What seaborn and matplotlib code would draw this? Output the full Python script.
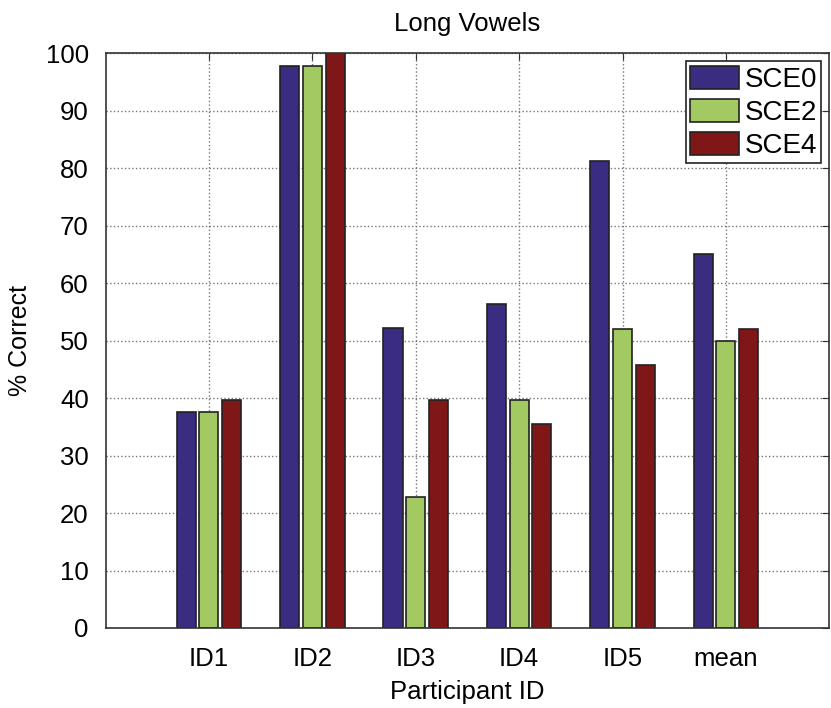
import pandas as pd
import seaborn as sns
import matplotlib.pyplot as plt

participants = ['ID1', 'ID2', 'ID3', 'ID4', 'ID5', 'mean']
sce0 = [37.5, 97.8, 52.1, 56.3, 81.2, 65.0]
sce2 = [37.5, 97.8, 22.8, 39.6, 52.0, 50.0]
sce4 = [39.6, 100.0, 39.6, 35.4, 45.7, 52.0]
conditions = ['SCE0', 'SCE2', 'SCE4']
colors = ['#3a2c80', '#a2c962', '#7f1718']

data = pd.DataFrame({
    'Participant ID': participants * 3,
    'Correct': sce0 + sce2 + sce4,
    'Condition': [c for c in conditions for _ in participants],
})

sns.set_style('white')
plt.rcParams['font.family'] = ['Liberation Sans', 'DejaVu Sans']
plt.rcParams['text.color'] = 'black'
plt.rcParams['axes.labelcolor'] = 'black'
plt.rcParams['xtick.color'] = 'black'
plt.rcParams['ytick.color'] = 'black'

fig = plt.figure(figsize=(8.31, 7.08), dpi=100)
ax = fig.add_axes([0.127, 0.113, 0.871, 0.812])

sns.barplot(data=data, x='Participant ID', y='Correct', hue='Condition',
            palette=colors, saturation=1, width=0.66, gap=0.16,
            edgecolor='#222222', linewidth=1.2, ax=ax)

ax.set_xlim(-1, 6)
ax.set_ylim(0, 100)
ax.set_yticks(range(0, 101, 10))
ax.grid(True, linestyle=':', color='#777777', linewidth=1.0)
ax.set_axisbelow(True)
ax.tick_params(direction='in', top=True, right=True, length=5, labelsize=18.5,
               color='#333333')
ax.tick_params(axis='x', pad=14)
ax.tick_params(axis='y', pad=12)
for side in ax.spines.values():
    side.set_color('#333333')
    side.set_linewidth(1.2)

ax.set_xlabel('Participant ID', fontsize=18.5, labelpad=6)
ax.set_ylabel('% Correct', fontsize=18, labelpad=10)
ax.set_title('Long Vowels', fontsize=18.5, pad=16)

ax.legend(loc='upper right', fontsize=20, frameon=True, fancybox=False,
          edgecolor='#222222', framealpha=1, handlelength=1.75, handleheight=0.9,
          handletextpad=0.2, borderaxespad=0.3, borderpad=0.15, labelspacing=0.22)
ax.legend_.get_frame().set_linewidth(1.2)

fig.savefig('out.png', dpi=100)
